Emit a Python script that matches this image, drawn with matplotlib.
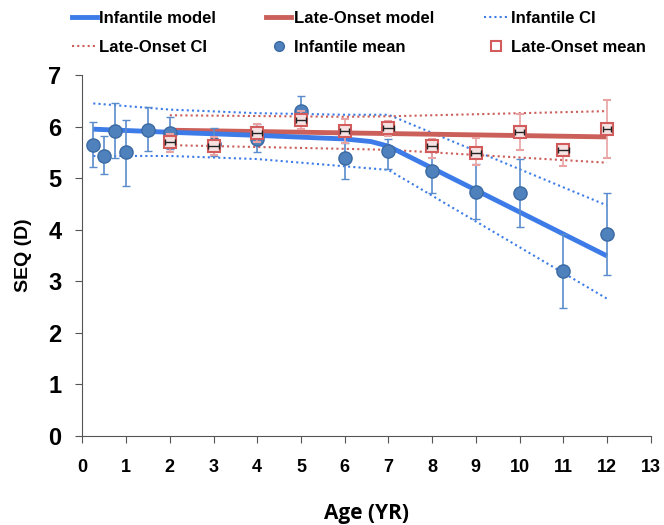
import matplotlib.pyplot as plt
from matplotlib.lines import Line2D

plt.rcParams['font.family'] = ['Liberation Sans', 'DejaVu Sans']

# infantile means
inf_age = [0.25, 0.5, 0.75, 1.0, 1.5, 2, 3, 4, 5, 6, 7, 8, 9, 10, 11, 12]
inf_mean = [5.64, 5.43, 5.92, 5.50, 5.94, 5.88, 5.66, 5.76, 6.31, 5.40, 5.53, 5.13, 4.73, 4.71, 3.20, 3.91]
inf_hi = [6.08, 5.81, 6.45, 6.13, 6.38, 6.18, 5.97, 6.06, 6.60, 5.68, 5.76, 5.55, 5.27, 5.37, 3.91, 4.71]
inf_lo = [5.21, 5.08, 5.40, 4.85, 5.52, 5.56, 5.42, 5.50, 6.11, 4.99, 5.18, 4.72, 4.20, 4.06, 2.48, 3.12]

# late-onset means
late_age = [2, 3, 4, 5, 6, 7, 8, 9, 10, 11, 12]
late_mean = [5.71, 5.63, 5.87, 6.12, 5.91, 5.97, 5.63, 5.48, 5.89, 5.54, 5.95]
late_hi = [5.85, 5.80, 6.05, 6.30, 6.15, 6.10, 5.75, 5.77, 6.25, 5.66, 6.52]
late_lo = [5.51, 5.45, 5.70, 5.95, 5.69, 5.82, 5.40, 5.25, 5.55, 5.23, 5.40]
late_xerr = [0.12, 0.12, 0.12, 0.12, 0.1, 0.12, 0.12, 0.12, 0.1, 0.12, 0.1]

# model fits
inf_model_x = [0.25, 2, 4, 6, 6.6, 7, 12]
inf_model_y = [5.95, 5.89, 5.83, 5.76, 5.71, 5.62, 3.49]
inf_ci_up_x = [0.25, 2, 4, 6, 7, 12]
inf_ci_up_y = [6.45, 6.33, 6.26, 6.23, 6.23, 4.47]
inf_ci_lo_x = [0.25, 2, 4, 6, 7, 12]
inf_ci_lo_y = [5.43, 5.43, 5.37, 5.23, 5.16, 2.66]

late_model_x = [2, 12]
late_model_y = [5.93, 5.80]
late_ci_up_x = [2, 6, 7, 12]
late_ci_up_y = [6.22, 6.19, 6.20, 6.30]
late_ci_lo_x = [2, 7, 12]
late_ci_lo_y = [5.64, 5.55, 5.30]

blue = '#3d7ce8'
red = '#cb5f5a'
narrow = ['Liberation Sans Narrow', 'Liberation Sans', 'DejaVu Sans']

fig = plt.figure(figsize=(6.64, 5.25), dpi=100)
ax = fig.add_axes([0.124, 0.170, 0.856, 0.687])

ax.plot(inf_ci_up_x, inf_ci_up_y, color=blue, lw=1.5, ls=(0, (1, 1.5)))
ax.plot(inf_ci_lo_x, inf_ci_lo_y, color=blue, lw=1.5, ls=(0, (1, 1.5)))
ax.plot(late_ci_up_x, late_ci_up_y, color=red, lw=1.5, ls=(0, (1, 1.5)))
ax.plot(late_ci_lo_x, late_ci_lo_y, color=red, lw=1.5, ls=(0, (1, 1.5)))

ax.plot(late_model_x, late_model_y, color=red, lw=3.5, solid_capstyle='butt')
ax.plot(inf_model_x, inf_model_y, color=blue, lw=3.5, solid_capstyle='butt')

inf_err = [[m - l for m, l in zip(inf_mean, inf_lo)], [h - m for m, h in zip(inf_mean, inf_hi)]]
late_err = [[m - l for m, l in zip(late_mean, late_lo)], [h - m for m, h in zip(late_mean, late_hi)]]

ax.errorbar(late_age, late_mean, yerr=late_err, fmt='s', ms=9, mfc='#f6e2e2', mec='#d25c5c',
            mew=1.5, ecolor='#e9a3a3', elinewidth=1.2, capsize=3, zorder=4)
ax.errorbar(late_age, late_mean, xerr=late_xerr, fmt='none', ecolor='#222222',
            elinewidth=1, capsize=2, zorder=5)
ax.errorbar(inf_age, inf_mean, yerr=inf_err, fmt='o', ms=9.5, mfc='#4f81bd', mec='#3b6aa3',
            mew=1, ecolor='#5a8ccc', elinewidth=1.2, capsize=3, zorder=3)

ax.set_xlim(0, 13)
ax.set_ylim(0, 7)
ax.set_xticks(range(0, 14))
ax.set_yticks(range(0, 8))
ax.spines['top'].set_visible(False)
ax.spines['right'].set_visible(False)
for s in ['left', 'bottom']:
    ax.spines[s].set_color('#555555')
ax.tick_params(axis='x', direction='out', length=5, color='#555555', pad=12)
ax.tick_params(axis='y', direction='out', length=5, color='#555555', pad=10)
for lab in ax.get_xticklabels():
    lab.set_fontweight('bold')
    lab.set_fontsize(13)
    lab.set_family(narrow)
for lab in ax.get_yticklabels():
    lab.set_fontweight('bold')
    lab.set_fontsize(17)
    lab.set_family(narrow)

ax.set_ylabel('SEQ (D)', fontsize=14, fontweight='bold', labelpad=12)
ax.set_xlabel('Age (YR)', fontsize=15, fontweight='bold', labelpad=19,
              family=['Open Sans', 'DejaVu Sans'])

handles = [
    Line2D([], [], color=blue, lw=3.5),
    Line2D([], [], color=red, lw=1.5, ls=(0, (1, 1.5))),
    Line2D([], [], color=red, lw=3.5),
    Line2D([], [], ls='none', marker='o', ms=7, mfc='#4f81bd', mec='#3b6aa3'),
    Line2D([], [], color=blue, lw=1.5, ls=(0, (1, 1.5))),
    Line2D([], [], ls='none', marker='s', ms=7, mfc='white', mec='#d25c5c', mew=1.5),
]
labels = ['Infantile model', 'Late-Onset CI', 'Late-Onset model', 'Infantile mean',
          'Infantile CI', 'Late-Onset mean']
fig.legend(handles, labels, ncol=3, loc='upper left', bbox_to_anchor=(0.088, 1.005),
           frameon=False, prop={'size': 12, 'weight': 'bold'}, handlelength=1.5,
           handletextpad=0.15, columnspacing=3.0, labelspacing=0.85, borderpad=0.3)

fig.savefig('out.png', dpi=100)
